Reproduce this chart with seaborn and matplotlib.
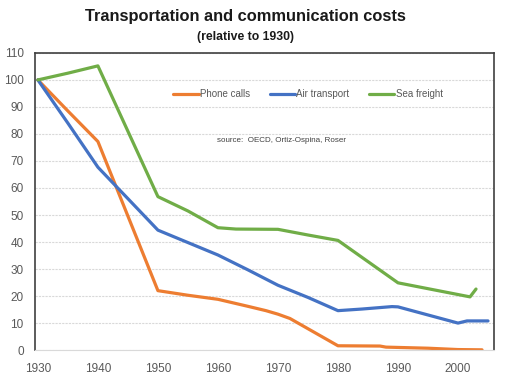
import matplotlib
matplotlib.use("Agg")
import matplotlib.pyplot as plt
import seaborn as sns
import pandas as pd

# Data (index, 1930 = 100)
phone_years = [1930, 1935, 1940, 1950, 1955, 1960, 1965, 1968, 1970, 1972, 1980, 1987, 1988, 1995, 2000, 2004]
phone_vals  = [100, 88.5, 77.2, 22.0, 20.3, 18.8, 16.2, 14.6, 13.3, 11.7, 1.6, 1.5, 1.1, 0.7, 0.2, 0.1]

air_years = [1930, 1935, 1940, 1950, 1955, 1960, 1965, 1970, 1975, 1980, 1984, 1989, 1990, 1995, 2000, 2001.5, 2005]
air_vals  = [100, 84, 67.7, 44.4, 39.8, 35.2, 29.7, 24.0, 19.5, 14.6, 15.2, 16.1, 16.0, 13.0, 10.0, 10.8, 10.8]

sea_years = [1930, 1935, 1940, 1950, 1955, 1960, 1963, 1970, 1975, 1980, 1990, 2002, 2003]
sea_vals  = [100, 102.5, 105.2, 56.8, 51.5, 45.3, 44.8, 44.7, 42.6, 40.6, 24.9, 19.7, 22.6]

series_names = ["Phone calls", "Air transport", "Sea freight"]
colors = ["#ED7D31", "#4472C4", "#70AD47"]

x_ticks = list(range(1930, 2001, 10))
y_ticks = list(range(0, 111, 10))

title = "Transportation and communication costs"
subtitle = "(relative to 1930)"
source = "source:  OECD, Ortiz-Ospina, Roser"

df = pd.concat([
    pd.DataFrame({"year": phone_years, "value": phone_vals, "series": series_names[0]}),
    pd.DataFrame({"year": air_years, "value": air_vals, "series": series_names[1]}),
    pd.DataFrame({"year": sea_years, "value": sea_vals, "series": series_names[2]}),
], ignore_index=True)

sns.set_theme(style="white")
plt.rcParams["font.family"] = ["Liberation Sans", "DejaVu Sans"]

fig = plt.figure(figsize=(5.13, 3.89), dpi=100)
ax = fig.add_axes([0.068, 0.100, 0.895, 0.764])

sns.lineplot(data=df, x="year", y="value", hue="series", hue_order=series_names,
             palette=colors, linewidth=2.3, ax=ax, estimator=None, sort=True)

ax.set_xlim(1929.5, 2006)
ax.set_ylim(0, 110)
ax.set_xticks(x_ticks)
ax.set_yticks(y_ticks)
ax.set_xlabel("")
ax.set_ylabel("")
ax.tick_params(axis="both", labelsize=8.5, labelcolor="#595959", length=0)
ax.tick_params(axis="x", pad=9)
ax.tick_params(axis="y", pad=8)
ax.yaxis.grid(True, color="#D9D9D9", linewidth=0.8, linestyle=(0, (2, 1)))
ax.xaxis.grid(False)
for side in ["left", "top", "right"]:
    ax.spines[side].set_color("#404040")
    ax.spines[side].set_linewidth(1.2)
ax.spines["bottom"].set_color("#D9D9D9")
ax.spines["bottom"].set_linewidth(0.8)

leg = ax.legend(loc="upper center", bbox_to_anchor=(0.595, 0.907), ncol=3, frameon=False,
                fontsize=7, handlelength=2.6, handletextpad=0.15, columnspacing=2.0)
for t in leg.get_texts():
    t.set_color("#595959")
for h in leg.get_lines():
    h.set_linewidth(2.3)

ax.text(0.397, 0.70, source, transform=ax.transAxes, fontsize=5.8, color="#404040")

fig.text(0.478, 0.958, title, ha="center", va="center", fontsize=11.8, fontweight="bold",
         color="#1a1a1a")
fig.text(0.478, 0.905, subtitle, ha="center", va="center", fontsize=8.8, fontweight="bold",
         color="#1a1a1a")

fig.savefig("out.png", dpi=100)
